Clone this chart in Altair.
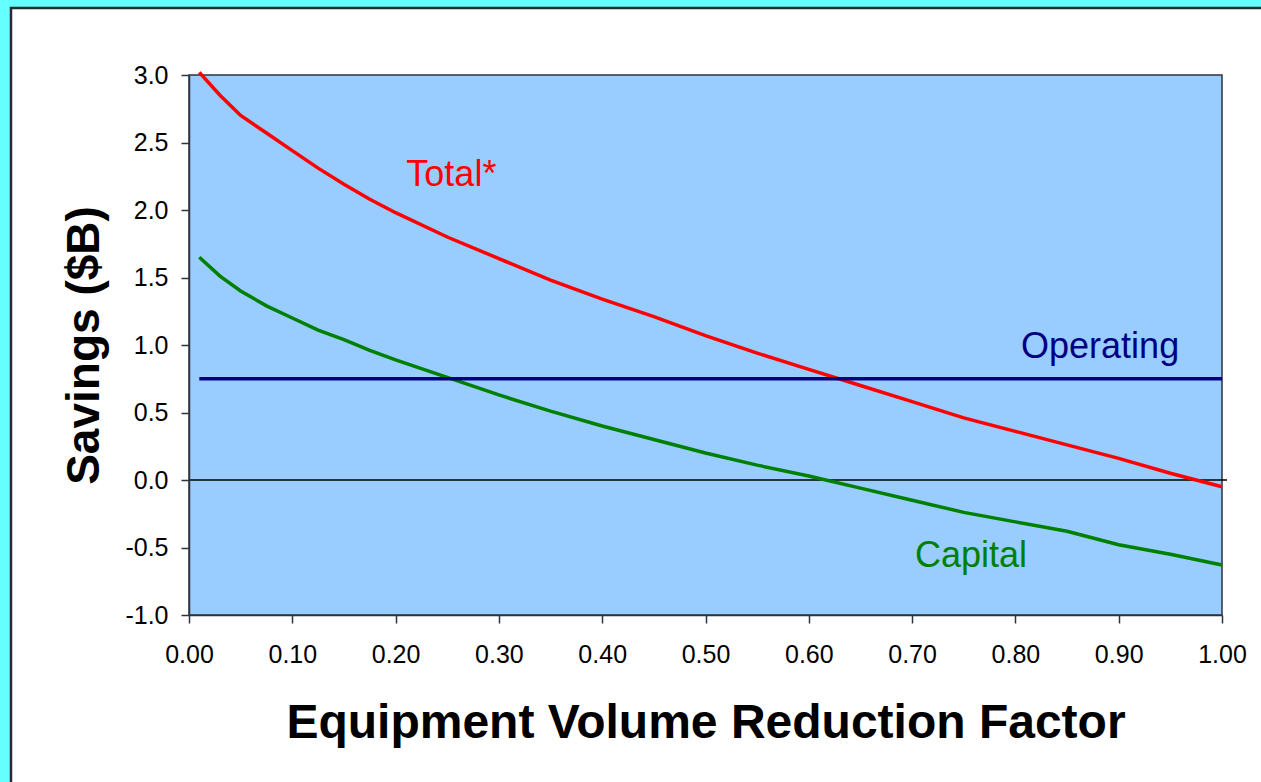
import altair as alt
import pandas as pd

# Equipment volume reduction factor (x) and savings in $B for each component
factor = [0.01, 0.03, 0.05, 0.075, 0.10, 0.125, 0.15, 0.175, 0.20, 0.25, 0.30, 0.35,
          0.40, 0.45, 0.50, 0.55, 0.60, 0.65, 0.70, 0.75, 0.80, 0.85, 0.90, 0.95, 1.00]
total = [3.02, 2.85, 2.70, 2.57, 2.44, 2.31, 2.19, 2.08, 1.98, 1.80, 1.64, 1.48,
         1.34, 1.21, 1.07, 0.94, 0.82, 0.70, 0.58, 0.46, 0.36, 0.26, 0.16, 0.05, -0.05]
capital = [1.65, 1.51, 1.40, 1.29, 1.20, 1.11, 1.04, 0.96, 0.89, 0.76, 0.63, 0.51,
           0.40, 0.30, 0.20, 0.11, 0.03, -0.06, -0.15, -0.24, -0.31, -0.38, -0.48, -0.55, -0.63]
operating_factor = [0.01, 1.00]
operating = [0.75, 0.75]

series_names = ["Total*", "Capital", "Operating"]
series_colors = ["#FF0000", "#008000", "#000080"]

# In-plot series labels (position in data units)
label_text = ["Total*", "Operating", "Capital"]
label_x = [0.254, 0.882, 0.757]
label_y = [2.26, 0.985, -0.56]
label_color = ["#FF0000", "#000080", "#008000"]

x_ticks = [0.0, 0.1, 0.2, 0.3, 0.4, 0.5, 0.6, 0.7, 0.8, 0.9, 1.0]
y_ticks = [-1.0, -0.5, 0.0, 0.5, 1.0, 1.5, 2.0, 2.5, 3.0]

W, H = 1033, 540
FONT = "Liberation Sans"

rows = []
for f, t, c in zip(factor, total, capital):
    rows.append({"factor": f, "savings": t, "series": "Total*"})
    rows.append({"factor": f, "savings": c, "series": "Capital"})
for f, o in zip(operating_factor, operating):
    rows.append({"factor": f, "savings": o, "series": "Operating"})
lines_df = pd.DataFrame(rows)

labels_df = pd.DataFrame({"label": label_text, "x": label_x, "y": label_y, "color": label_color})
one = pd.DataFrame({"k": [0]})

x_scale = alt.Scale(domain=[0, 1], nice=False, zero=False)
y_scale = alt.Scale(domain=[-1, 3], nice=False, zero=False)

axis_style = dict(
    grid=False, tickSize=8, labelFontSize=25, labelFont=FONT, labelColor="black",
    labelFlush=False, labelOverlap=False,
    titleFont=FONT, titleFontWeight="bold", titleColor="black", titleBaseline="alphabetic",
    titleAlign="center", domainColor="#2b3440", domainWidth=1.5,
    tickColor="#2b3440", tickWidth=1.5, zindex=1,
)

# white panel with dark edge sitting on the cyan page
panel = alt.Chart(one).mark_rect(fill="white", stroke="#1f2f2f", strokeWidth=2.5).encode(
    x=alt.value(-178), x2=alt.value(W + 200), y=alt.value(-67), y2=alt.value(H + 300)
)

# light blue plotting area with a dark frame
plot_bg = alt.Chart(one).mark_rect(fill="#99CCFF", stroke="#2b3440", strokeWidth=1.5).encode(
    x=alt.value(0), x2=alt.value(W), y=alt.value(0), y2=alt.value(H)
)

zero_rule = alt.Chart(one).mark_rule(color="black", strokeWidth=1.5).encode(
    y=alt.datum(0, scale=y_scale), x=alt.value(0), x2=alt.value(W + 5)
)

lines = alt.Chart(lines_df).mark_line(strokeWidth=3.5, clip=False).encode(
    x=alt.X("factor:Q", scale=x_scale,
            axis=alt.Axis(values=x_ticks, format=".2f", title="Equipment Volume Reduction Factor",
                          labelPadding=19, titleFontSize=48, titleY=122, titleX=W / 2,
                          **axis_style)),
    y=alt.Y("savings:Q", scale=y_scale,
            axis=alt.Axis(values=y_ticks, title="Savings ($B)",
                          labelExpr="replace(format(datum.value, '.1f'), '\u2212', '-')",
                          labelPadding=13, titleFontSize=46, titleAngle=270,
                          titleX=-91, titleY=H / 2, **axis_style)),
    color=alt.Color("series:N", scale=alt.Scale(domain=series_names, range=series_colors), legend=None),
    detail="series:N",
)

labels = alt.Chart(labels_df).mark_text(font=FONT, fontSize=36, baseline="middle", align="center").encode(
    x=alt.X("x:Q", scale=x_scale),
    y=alt.Y("y:Q", scale=y_scale),
    text="label:N",
    color=alt.Color("color:N", scale=None),
)

chart = alt.layer(panel, plot_bg, zero_rule, lines, labels).properties(
    width=W, height=H,
    padding={"left": 189, "top": 75, "right": 39, "bottom": 167},
    autosize=alt.AutoSizeParams(type="none"),
    background="#66FFFF",
).configure_view(stroke=None)

chart.save("out.html", embed_options={"renderer": "svg", "actions": False})
